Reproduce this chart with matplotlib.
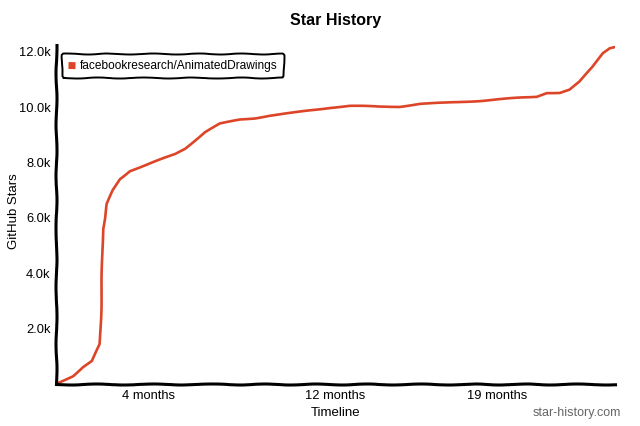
import matplotlib
matplotlib.use("Agg")
import matplotlib.pyplot as plt
from matplotlib.ticker import FuncFormatter

# Star history (months since start, stars)
months = [0, 0.73, 1.16, 1.55, 1.89, 1.94, 1.98, 2.02, 2.11, 2.19, 2.45, 2.75,
          3.18, 3.83, 4.47, 5.12, 5.55, 5.98, 6.41, 7.05, 7.91, 8.56, 9.2,
          10.49, 11.78, 12.65, 13.94, 14.8, 15.66, 16.82, 18.24, 19.96, 20.69,
          21.12, 21.68, 22.1, 22.54, 23.1, 23.53, 23.83, 24.04]
stars = [0, 290, 610, 830, 1440, 2600, 4100, 5600, 6000, 6500, 7000, 7400,
         7700, 7900, 8100, 8300, 8500, 8800, 9100, 9400, 9550, 9600, 9700,
         9830, 9980, 10050, 10020, 10020, 10120, 10160, 10230, 10340, 10380,
         10520, 10520, 10630, 10920, 11460, 11960, 12140, 12180]
repo = "facebookresearch/AnimatedDrawings"
xtick_pos = [4, 12, 19]
xtick_labels = ["4 months", "12 months", "19 months"]
ytick_pos = [2000, 4000, 6000, 8000, 10000, 12000]

plt.rcParams["font.family"] = ["Liberation Sans", "DejaVu Sans"]

fig = plt.figure(figsize=(6.4, 4.26), dpi=100)
ax = fig.add_axes([0.0875, 0.0986, 0.873, 0.796])

line, = ax.plot(months, stars, color="#dd4528", linewidth=1.9, label=repo)
line.set_sketch_params(0.35, 80, 2)

ax.set_xlim(0, 24.05)
ax.set_ylim(0, 12250)
ax.set_xticks(xtick_pos)
ax.set_xticklabels(xtick_labels)
ax.set_yticks(ytick_pos)
ax.yaxis.set_major_formatter(FuncFormatter(lambda v, p: f"{v/1000:.1f}k"))
ax.tick_params(length=0, labelsize=9.3, pad=4)

for side in ["top", "right"]:
    ax.spines[side].set_visible(False)
for side in ["left", "bottom"]:
    ax.spines[side].set_linewidth(2.2)
    ax.spines[side].set_sketch_params(0.5, 60, 2)

ax.set_title("Star History", fontsize=11.5, fontweight="bold", pad=14)
ax.set_xlabel("Timeline", fontsize=9.5, labelpad=4)
ax.set_ylabel("GitHub Stars", fontsize=9.5)
ax.yaxis.set_label_coords(-0.064, 0.51)

leg = ax.legend(loc="upper left", fontsize=8.6, handlelength=0.6, handleheight=0.6,
                handletextpad=0.45, borderpad=0.5, borderaxespad=0.3,
                fancybox=True, framealpha=1, bbox_to_anchor=(0.004, 0.985))
leg.get_frame().set_edgecolor("black")
leg.get_frame().set_linewidth(1.4)
leg.get_frame().set_sketch_params(0.5, 50, 2)
for h in leg.legend_handles:
    h.set_linewidth(5)
    h.set_solid_capstyle("butt")

fig.text(0.97, 0.03, "star-history.com", ha="right", va="center", fontsize=9, color="#666666")

fig.savefig("out.png", dpi=100)
